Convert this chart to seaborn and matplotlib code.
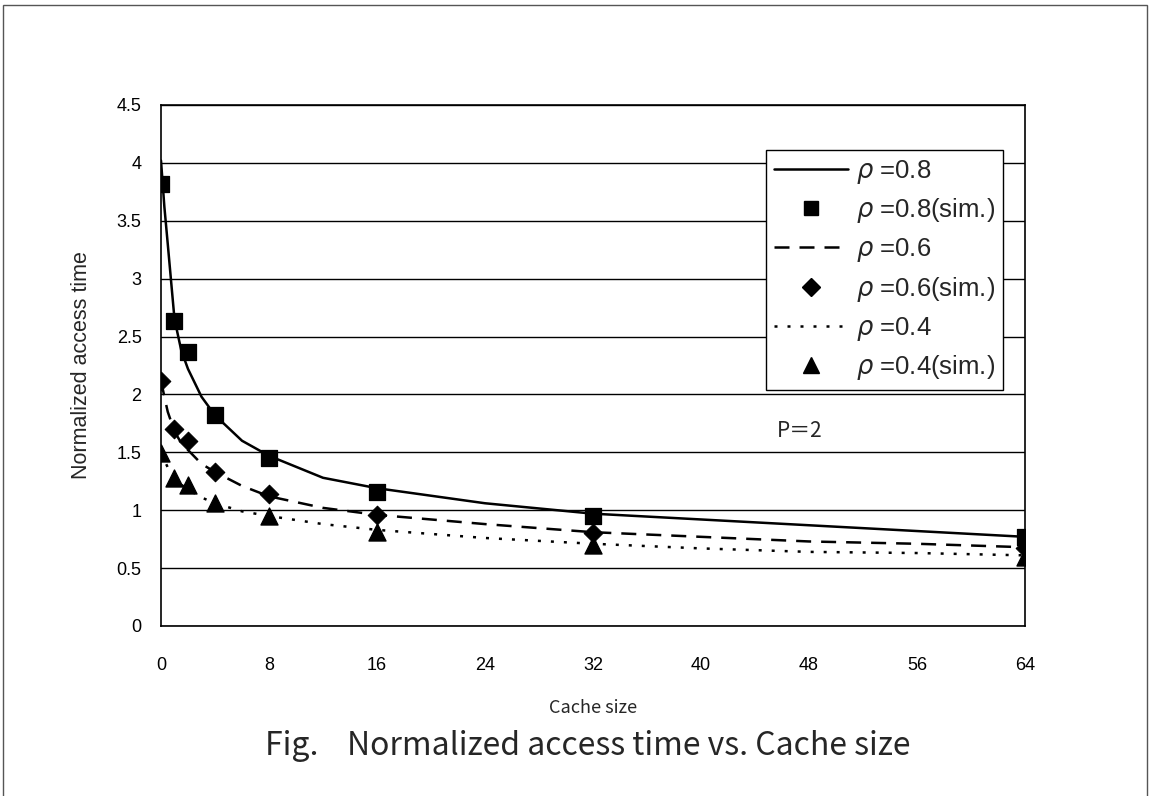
import pandas as pd
import matplotlib
matplotlib.use('Agg')
import matplotlib.pyplot as plt
import seaborn as sns
from matplotlib.lines import Line2D
from matplotlib.patches import Rectangle

# analytical curves
line_x = [0, 0.25, 0.5, 1, 1.5, 2, 3, 4, 6, 8, 12, 16, 24, 32, 40, 48, 56, 64]
rho08 = [4.02, 3.62, 3.30, 2.65, 2.38, 2.22, 1.98, 1.82, 1.60, 1.47, 1.28, 1.19, 1.06, 0.97, 0.92, 0.87, 0.82, 0.77]
rho06 = [2.12, 1.98, 1.85, 1.68, 1.58, 1.52, 1.40, 1.33, 1.21, 1.12, 1.02, 0.96, 0.88, 0.81, 0.77, 0.73, 0.71, 0.68]
rho04 = [1.50, 1.43, 1.37, 1.28, 1.22, 1.18, 1.11, 1.06, 0.99, 0.95, 0.88, 0.83, 0.76, 0.71, 0.67, 0.64, 0.63, 0.61]

# simulation points
sim_x = [0, 1, 2, 4, 8, 16, 32, 64]
sim08 = [3.82, 2.63, 2.37, 1.82, 1.45, 1.16, 0.95, 0.77]
sim06 = [2.12, 1.70, 1.60, 1.33, 1.14, 0.96, 0.80, 0.67]
sim04 = [1.49, 1.28, 1.22, 1.06, 0.95, 0.81, 0.70, 0.60]

x_ticks = [0, 8, 16, 24, 32, 40, 48, 56, 64]
y_ticks = [0, 0.5, 1, 1.5, 2, 2.5, 3, 3.5, 4, 4.5]
y_labels = ['0', '0.5', '1', '1.5', '2', '2.5', '3', '3.5', '4', '4.5']

sns.set_style('white')
plt.rcParams['font.family'] = ['Liberation Sans', 'DejaVu Sans']
plt.rcParams['mathtext.fontset'] = 'dejavusans'

narrow = ['Liberation Sans Narrow', 'Liberation Sans', 'DejaVu Sans']
cjk = ['Noto Sans CJK JP', 'DejaVu Sans']

lines_df = pd.DataFrame({'x': line_x, 'r08': rho08, 'r06': rho06, 'r04': rho04})
sim_df = pd.DataFrame({'x': sim_x, 's08': sim08, 's06': sim06, 's04': sim04})

fig = plt.figure(figsize=(11.5, 7.96), dpi=100)
ax = fig.add_axes([0.14, 0.2136, 0.7513, 0.6545])

dash = (0, (6, 4))
dot = (0, (1.2, 4))
sns.lineplot(data=lines_df, x='x', y='r08', ax=ax, color='black', lw=1.8, linestyle='-')
sns.lineplot(data=lines_df, x='x', y='r06', ax=ax, color='black', lw=1.8, linestyle=dash)
sns.lineplot(data=lines_df, x='x', y='r04', ax=ax, color='black', lw=1.8, linestyle=dot)

sns.scatterplot(data=sim_df, x='x', y='s08', ax=ax, color='black', marker='s', s=130,
                edgecolor='black', zorder=5)
sns.scatterplot(data=sim_df, x='x', y='s06', ax=ax, color='black', marker='D', s=90,
                edgecolor='black', zorder=5)
sns.scatterplot(data=sim_df, x='x', y='s04', ax=ax, color='black', marker='^', s=150,
                edgecolor='black', zorder=5)

ax.set_xlim(0, 64)
ax.set_ylim(0, 4.5)
ax.set_xticks(x_ticks)
ax.set_xticklabels([str(t) for t in x_ticks], fontsize=13, family=narrow)
ax.set_yticks(y_ticks)
ax.set_yticklabels(y_labels, fontsize=13, family=narrow)
ax.tick_params(axis='x', direction='in', length=5, width=1, pad=22, colors='black')
ax.tick_params(axis='y', length=0, pad=14, colors='black')

ax.yaxis.grid(True, color='black', lw=1)
ax.set_axisbelow(True)
for sp in ax.spines.values():
    sp.set_color('black')
    sp.set_linewidth(1.2)

ax.set_xlabel('Cache size', fontsize=13, labelpad=18, family=cjk)
ax.set_ylabel('Normalized access time', fontsize=15.5, labelpad=18)

ax.text(47.3, 1.68, 'P＝2', fontsize=15, ha='center', va='center', family=cjk)

handles = [
    Line2D([], [], color='black', lw=1.8, linestyle='-'),
    Line2D([], [], color='black', lw=0, marker='s', markersize=10),
    Line2D([], [], color='black', lw=1.8, linestyle=dash),
    Line2D([], [], color='black', lw=0, marker='D', markersize=9),
    Line2D([], [], color='black', lw=1.8, linestyle=dot),
    Line2D([], [], color='black', lw=0, marker='^', markersize=11),
]
labels = [r'$\rho$ =0.8', r'$\rho$ =0.8(sim.)', r'$\rho$ =0.6', r'$\rho$ =0.6(sim.)',
          r'$\rho$ =0.4', r'$\rho$ =0.4(sim.)']
leg = ax.legend(handles, labels, loc='upper left', bbox_to_anchor=(0.70, 0.914),
                fontsize=18.5, frameon=True, fancybox=False, handlelength=2.9,
                handletextpad=0.3, labelspacing=0.42, borderpad=0.3, borderaxespad=0)
leg.get_frame().set_edgecolor('black')
leg.get_frame().set_linewidth(1)
leg.get_frame().set_alpha(1)

fig.text(0.511, 0.063, 'Fig.    Normalized access time vs. Cache size', ha='center', va='center',
         fontsize=23, family=cjk)

fig.patches.append(Rectangle((0.003, -0.01), 0.994, 1.004, transform=fig.transFigure,
                             fill=False, edgecolor='#555555', lw=1))

fig.savefig('out.png', dpi=100)
